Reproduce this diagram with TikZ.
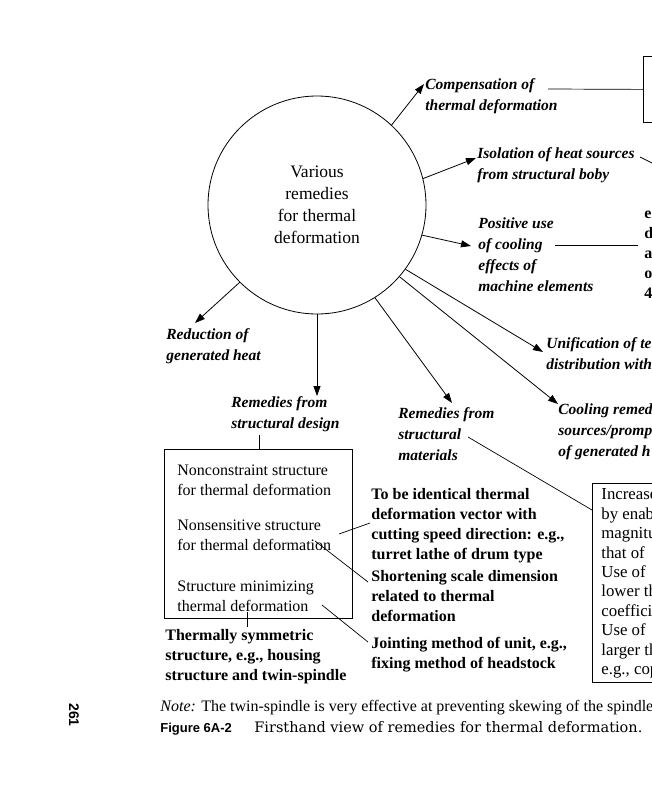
\documentclass[tikz,border=0pt]{standalone}
\usepackage{fontspec}
\setmainfont{Liberation Serif}
\newfontfamily\capfont{DejaVu Serif}
\newfontfamily\sansb{Liberation Sans}
\usetikzlibrary{arrows.meta}
\begin{document}
\begin{tikzpicture}[x=1pt,y=-1pt,line width=0.8pt,
  arr/.style={-{Triangle[length=10pt,width=7pt]}},
  conn/.style={line width=0.7pt},
  lab/.style={font=\fontsize{15.5}{21}\selectfont\bfseries\itshape, align=left, anchor=west, inner sep=0pt},
  bld/.style={font=\fontsize{16}{20}\selectfont\bfseries, align=left, anchor=west, inner sep=0pt},
  reg/.style={font=\fontsize{16}{20}\selectfont, align=left, anchor=west, inner sep=0pt},
  boxed/.style={draw, anchor=north west, inner sep=0pt, line width=0.8pt}]
\useasboundingbox (0,0) rectangle (652,800);
\clip (0,0) rectangle (652,800);

% central circle
\node[draw, circle, minimum size=218pt, inner sep=0pt, align=center,
      font=\fontsize{17.5}{22}\selectfont] (c) at (317,205)
      {Various\\remedies\\for thermal\\deformation};

% labels around
\node[lab] (comp) at (425,96) {Compensation of\\thermal deformation};
\node[lab] (iso) at (477,165.5) {Isolation of heat sources\\from structural boby};
\node[lab] (pos) at (478,255) {Positive use\\of cooling\\effects of\\machine elements};
\node[lab] (red) at (166,346) {Reduction of\\generated heat};
\node[lab] (rsd) at (231,414.5) {Remedies from\\structural design};
\node[lab] (rsm) at (398,434) {Remedies from\\structural\\materials};
\node[lab] (uni) at (546,353.5) {Unification of te\\distribution with};
\node[lab] (cool) at (558,432) {Cooling remed\\sources/promp\\of generated h};
\node[bld] (rtop) at (644,254) {e.g.,\\d\\a\\o\\4};

% boxes
\node[boxed, minimum width=60pt, minimum height=66pt] (tbox) at (643,56) {};
\node[boxed, minimum width=188pt, minimum height=169pt] (dbox) at (164,449) {};
\node[boxed, minimum width=80pt, minimum height=199pt] (mbox) at (592,483) {};

% design box contents
\node[reg] (nc) at (177,480) {Nonconstraint structure\\for thermal deformation};
\node[reg] (ns) at (177,535) {Nonsensitive structure\\for thermal deformation};
\node[reg] (sm) at (177,596.5) {Structure minimizing\\thermal deformation};

% materials box contents
\node[reg, font=\fontsize{16.8}{19.4}\selectfont] (mt) at (601,583.5)
  {Increase\\by enabling\\magnitude\\that of\\Use of\\lower thermal\\coefficient\\Use of\\larger thermal\\e.g., copper};

% bold texts
\node[bld] (tbi) at (371,526) {To be identical thermal\\deformation vector with\\cutting speed direction: e.g.,\\turret lathe of drum type};
\node[bld] (sh) at (371,596) {Shortening scale dimension\\related to thermal\\deformation};
\node[bld] (jm) at (371,654.5) {Jointing method of unit, e.g.,\\fixing method of headstock};
\node[bld] (ts) at (165,657) {Thermally symmetric\\structure, e.g., housing\\structure and twin-spindle};

% arrow tips
\coordinate (comptip) at (424,84);
\coordinate (isotip) at (476,158);
\coordinate (postip) at (471,246);
\coordinate (unitip) at (543,352);
\coordinate (cooltip) at (558,404);
\coordinate (rsmtip) at (452,403);
\coordinate (rsdtip) at (317,396);
\coordinate (redtip) at (195,323);

\draw[arr] (c.47) -- (comptip);
\draw[arr] (c.14) -- (isotip);
\draw[arr] (c.-16) -- (postip);
\draw[arr] (c.-36) -- (unitip);
\draw[arr] (c.-41) -- (cooltip);
\draw[arr] (c.-58) -- (rsmtip);
\draw[arr] (c.-90) -- (rsdtip);
\draw[arr] (c.-135) -- (redtip);

% plain connectors
\coordinate (compend) at (548,89);
\draw[conn] (compend) -- (tbox.west);
\coordinate (isoend) at (640,157);
\coordinate (isoout) at (662,168);
\draw[conn] (isoend) -- (isoout);
\coordinate (posend) at (555,245);
\coordinate (posout) at (638,245);
\draw[conn] (posend) -- (posout);
\coordinate (rsmend) at (468,437);
\coordinate (mboxin) at (592,510);
\draw[conn] (rsmend) -- (mboxin);
\coordinate (rsdb) at (259,435);
\draw[conn] (rsdb) -- (rsdb |- dbox.north);
\coordinate (nsend) at (339,534);
\coordinate (tbiin) at (370,523);
\draw[conn] (nsend) -- (tbiin);
\coordinate (nsdef) at (315,541);
\coordinate (shin) at (368,582);
\draw[conn] (nsdef) -- (shin);
\coordinate (smend) at (322,605);
\coordinate (jmin) at (368,642);
\draw[conn] (smend) -- (jmin);
\coordinate (smdef) at (247,612);
\coordinate (tsin) at (247,627);
\draw[conn] (smdef) -- (tsin);

% caption
\node[anchor=base west, inner sep=0pt, font=\fontsize{16}{18}\selectfont] (note) at (160,711)
  {\textit{Note:} The twin-spindle is very effective at preventing skewing of the spindle};
\node[anchor=base west, inner sep=0pt, font=\sansb\bfseries\fontsize{13}{16}\selectfont] (fig) at (160,732) {Figure 6A-2};
\node[anchor=base west, inner sep=0pt, font=\capfont\fontsize{14.5}{16}\selectfont] (cap) at (254,732)
  {Firsthand view of remedies for thermal deformation.};
\node[rotate=-90, inner sep=0pt, font=\sansb\bfseries\fontsize{14}{16}\selectfont] (pg) at (74,715) {261};
\end{tikzpicture}
\end{document}
